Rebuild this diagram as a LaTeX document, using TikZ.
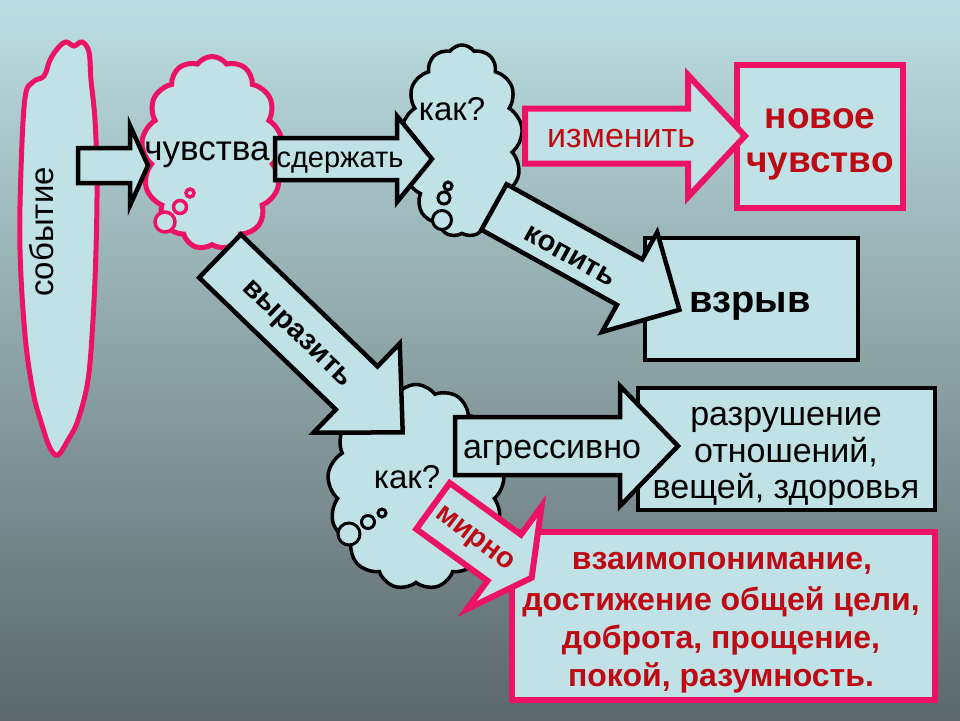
\documentclass[tikz,border=0pt]{standalone}
\usepackage{fontspec}
\setmainfont{Liberation Sans}
\usetikzlibrary{shapes.symbols}
\definecolor{bgtop}{RGB}{188,222,226}
\definecolor{bgmid}{RGB}{152,182,186}
\definecolor{bgbot}{RGB}{92,104,106}
\definecolor{pale}{RGB}{192,226,230}
\definecolor{pinkline}{RGB}{236,18,100}
\definecolor{redtext}{RGB}{190,10,20}
\newcommand\barrow[8]{%
  \begin{scope}[shift={(#2,#3)}, rotate=#4]
    \draw[#1] (0,{-(#7)/2}) -- ({#5-#6},{-(#7)/2}) -- ({#5-#6},{-(#8)/2}) -- (#5,0)
      -- ({#5-#6},{(#8)/2}) -- ({#5-#6},{(#7)/2}) -- (0,{(#7)/2}) -- cycle;
  \end{scope}}
\begin{document}
\begin{tikzpicture}[x=1pt,y=-1pt,
  blk/.style={draw=black, line width=4.5pt, fill=pale, line join=miter},
  pnk/.style={draw=pinkline, line width=6pt, fill=pale, line join=miter},
  cloudblk/.style={cloud, cloud puffs=13, cloud puff arc=110, draw=black, line width=3.5pt, fill=pale, inner sep=0pt},
  cloudpnk/.style={cloud, cloud puffs=13, cloud puff arc=110, draw=pinkline, line width=5pt, fill=pale, inner sep=0pt},
  bubblepnk/.style={draw=pinkline, line width=3.5pt, fill=pale},
  bubbleblk/.style={draw=black, line width=3pt, fill=pale},
  lbl/.style={inner sep=0pt},
  bl/.style={inner sep=0pt, anchor=base},
  fr/.style={font=\fontsize{#1}{#1}\selectfont},
  fb/.style={font=\fontsize{#1}{#1}\selectfont\bfseries}
]
\useasboundingbox (0,0) rectangle (960,720);
\shade[top color=bgtop, middle color=bgmid, bottom color=bgbot] (0,0) rectangle (960,720);

% "событие" cloud (tall blob)
\draw[draw=pinkline, line width=5pt, fill=pale] plot[smooth cycle, tension=0.6] coordinates {
  (25,98) (33,82) (44,76) (50,60) (58,48) (66,42) (74,46) (82,42) (89,52) (91,80)
  (95,120) (97,180) (96,250) (93,320) (88,380) (78,420) (68,440) (58,455) (50,448)
  (42,425) (33,392) (25,335) (20,250) (21,170)};
\coordinate (sob) at (58,248);
% other clouds
\node[cloudpnk, minimum width=141, minimum height=193] (chuv) at (212,153) {};
\node[cloudblk, minimum width=121, minimum height=192] (kak1) at (462,141) {};
\node[cloudblk, minimum width=177, minimum height=205] (kak2) at (416,487) {};

% thought bubbles
\draw[bubblepnk] (165,222) circle[radius=10];
\draw[bubblepnk] (180,207) circle[radius=6.5];
\draw[bubblepnk] (190,193) circle[radius=4];
\draw[bubbleblk] (442,220) circle[radius=9.5];
\draw[bubbleblk] (444,198) circle[radius=6];
\draw[bubbleblk] (448,186) circle[radius=4];
\draw[bubbleblk] (349,534) circle[radius=11];
\draw[bubbleblk] (368,522) circle[radius=6.5];
\draw[bubbleblk] (382,513) circle[radius=4];

% boxes
\node[pnk, minimum width=166, minimum height=143] (novoe) at (820,136.5) {};
\node[blk, minimum width=213, minimum height=122] (vzryv) at (751.5,299) {};
\node[blk, minimum width=297, minimum height=122] (razr) at (786.5,449) {};
\node[pnk, minimum width=423, minimum height=168] (mir) at (723.5,616) {};

% block arrows
\barrow{blk}{78}{165.5}{0}{70}{18}{35}{80}
\barrow{blk}{275}{159}{0}{157}{35}{42}{86}
\barrow{pnk}{525}{136}{0}{220}{57}{55}{122}
\barrow{blk}{494}{207}{-29}{212}{57}{52}{114}
\barrow{blk}{220}{256}{-44}{254}{64}{60}{124}
\barrow{blk}{455}{446}{0}{223}{58}{58}{120}
\barrow{pnk}{433}{506}{-36}{122}{34}{57}{127}

% box texts
\node[bl, fb=37, text=redtext] (tnov1) at (820,128) {новое};
\node[bl, fb=37, text=redtext] (tnov2) at (820,172) {чувство};
\node[bl, fb=38] (tvzr) at (750,312) {взрыв};
\node[bl, fr=34] (traz1) at (786,425) {разрушение};
\node[bl, fr=34] (traz2) at (786,462) {отношений,};
\node[bl, fr=34] (traz3) at (786,498) {вещей, здоровья};
\node[bl, fb=32, text=redtext] (tmir1) at (722,569) {взаимопонимание,};
\node[bl, fb=32, text=redtext] (tmir2) at (721,610) {достижение общей цели,};
\node[bl, fb=32, text=redtext] (tmir3) at (721,648) {доброта, прощение,};
\node[bl, fb=32, text=redtext] (tmir4) at (721,686) {покой, разумность.};

% labels
\node[lbl, fr=33, rotate=90] (tsob) at (42,232) {событие};
\node[bl, fr=35] (tchuv) at (207,160) {чувства};
\node[bl, fr=29] (tsder) at (340,167) {сдержать};
\node[bl, fr=33] (tkak1) at (452,120) {как?};
\node[bl, fr=34, text=redtext] (tizm) at (621,147) {изменить};
\node[lbl, fb=29, rotate=-29] (tkop) at (570,256) {копить};
\node[lbl, fb=29, rotate=-44] (tvyr) at (296,335) {выразить};
\node[bl, fr=33] (tkak2) at (407,488) {как?};
\node[bl, fr=34] (tagr) at (552,458) {агрессивно};
\node[lbl, fb=29, rotate=-37, text=redtext] (tmir) at (474,540) {мирно};
\end{tikzpicture}
\end{document}
